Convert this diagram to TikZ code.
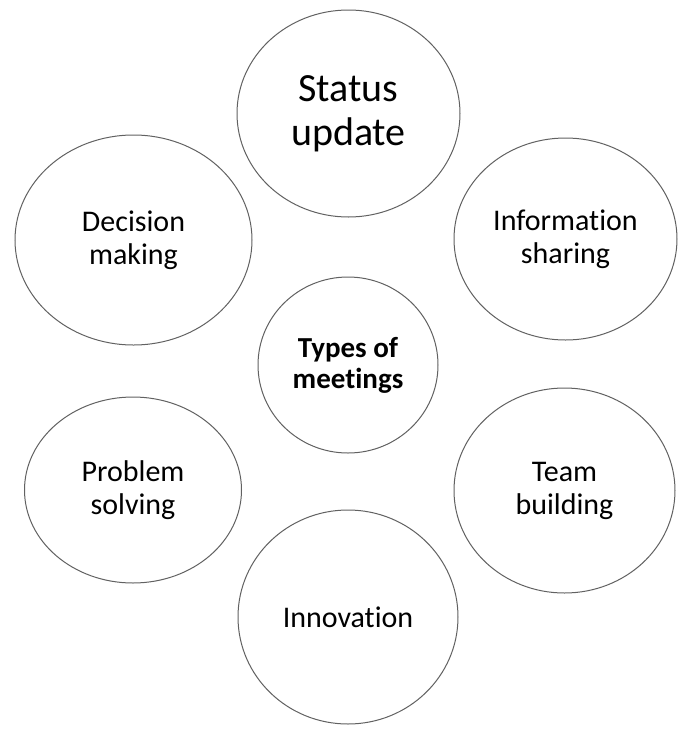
\documentclass[tikz,border=0pt]{standalone}
\usepackage{fontspec}
\setmainfont{Carlito}[Ligatures=NoCommon]
\usetikzlibrary{shapes.geometric}
\begin{document}
\begin{tikzpicture}[x=1pt,y=-1pt,
  bubble/.style={ellipse, draw=black!62, line width=1pt, inner sep=0pt,
    align=center, text=black, font=\fontsize{30}{33}\selectfont},
  hub/.style={bubble, font=\bfseries\fontsize{29}{31}\selectfont},
  big/.style={bubble, font=\fontsize{40}{44}\selectfont}]
\useasboundingbox (0,0) rectangle (699,729);
\fill[white] (0,0) rectangle (699,729);

\node[hub, minimum width=180pt, minimum height=176pt] (types) at (348,365) {Types of\\meetings};

\node[big, minimum width=223pt, minimum height=207pt] (status) at (348.5,113.5) {Status\\update};
\node[bubble, minimum width=223pt, minimum height=202pt] (info) at (565.5,239) {Information\\sharing};
\node[bubble, minimum width=237pt, minimum height=210pt] (decision) at (133.5,240) {Decision\\making};
\node[bubble, minimum width=217pt, minimum height=186pt] (problem) at (133,490) {Problem\\solving};
\node[bubble, minimum width=221pt, minimum height=205pt] (team) at (564.5,490.5) {Team\\building};
\node[bubble, minimum width=220pt, minimum height=214pt] (innov) at (348,617) {Innovation};
\end{tikzpicture}
\end{document}
